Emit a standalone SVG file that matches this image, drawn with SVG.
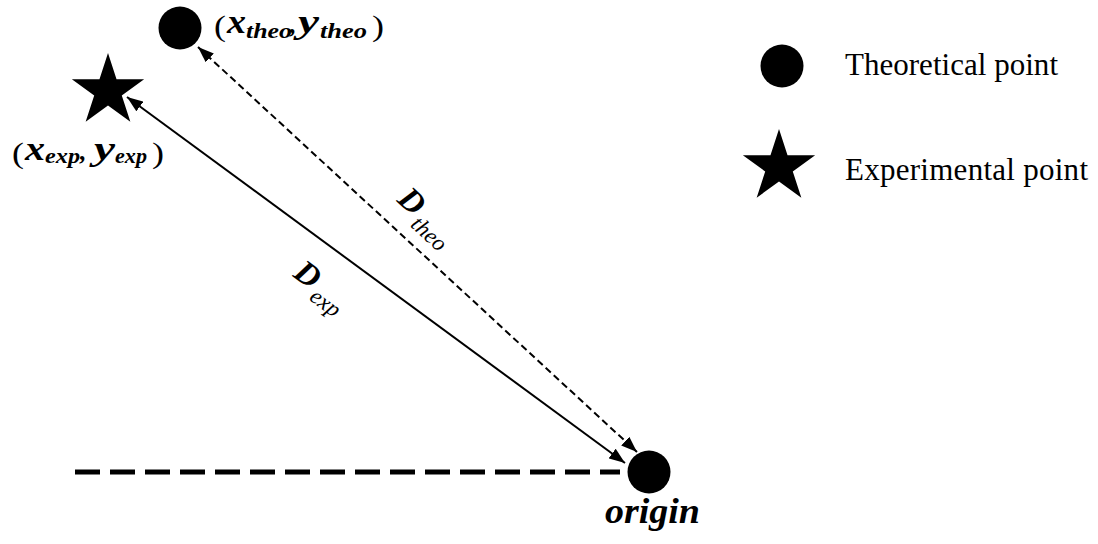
<svg xmlns="http://www.w3.org/2000/svg" width="1098" height="544" viewBox="0 0 1098 544">
<style>
.m{font-family:"Liberation Serif","Times New Roman",serif;font-weight:bold;font-style:italic;fill:#000}
.s{font-family:"Liberation Serif","Times New Roman",serif;font-style:italic;fill:#000}
.p{font-family:"Liberation Serif","Times New Roman",serif;fill:#000}
.leg{font-family:"Liberation Serif","Times New Roman",serif;font-size:31px;fill:#000}
.conn{stroke:#000;stroke-width:2;fill:none}
</style>
<defs>
<marker id="ah" viewBox="0 0 16 12" refX="16" refY="6" markerWidth="16" markerHeight="12" markerUnits="userSpaceOnUse" orient="auto-start-reverse">
<path d="M0,0 L16,6 L0,12 z" fill="#000"/>
</marker>
<path id="star" d="M0,-38 L8.52,-11.73 L36.14,-11.74 L13.79,4.48 L22.34,30.74 L0,14.5 L-22.34,30.74 L-13.79,4.48 L-36.14,-11.74 L-8.52,-11.73 Z" fill="#000"/>
</defs>
<rect width="1098" height="544" fill="#fff"/>
<g id="connectors">
<line x1="75" y1="472" x2="620" y2="472" stroke="#000" stroke-width="5" stroke-dasharray="25,10"/>
<line class="conn" x1="127" y1="97" x2="625" y2="463" marker-start="url(#ah)" marker-end="url(#ah)"/>
<line class="conn" x1="198" y1="47" x2="637" y2="452" stroke-dasharray="7,4" marker-start="url(#ah)" marker-end="url(#ah)"/>
<text class="m" font-size="33" transform="translate(396,201) rotate(42.7)">D<tspan class="s" font-size="23" font-weight="normal" dx="3" dy="9">theo</tspan></text>
<text class="m" font-size="33" transform="translate(292,276) rotate(36.3)">D<tspan class="s" font-size="23" font-weight="normal" dx="3" dy="9">exp</tspan></text>
</g>
<g id="theo-point">
<circle cx="180" cy="28" r="21.5" fill="#000"/>
<text class="p" font-size="29" x="214" y="36" textLength="12" lengthAdjust="spacingAndGlyphs">(</text>
<text class="m" font-size="34" x="227" y="33" textLength="19" lengthAdjust="spacingAndGlyphs">x</text>
<text class="m" font-size="22" x="246" y="38" textLength="46" lengthAdjust="spacingAndGlyphs">theo</text>
<text class="m" font-size="26" x="290" y="33">,</text>
<text class="m" font-size="34" x="298" y="33" textLength="21" lengthAdjust="spacingAndGlyphs">y</text>
<text class="m" font-size="22" x="320" y="38" textLength="47" lengthAdjust="spacingAndGlyphs">theo</text>
<text class="p" font-size="29" x="372" y="36" textLength="12" lengthAdjust="spacingAndGlyphs">)</text>
</g>
<g id="exp-point">
<use href="#star" x="108" y="91"/>
<text class="p" font-size="29" x="12" y="163" textLength="12" lengthAdjust="spacingAndGlyphs">(</text>
<text class="m" font-size="34" x="25" y="160" textLength="20" lengthAdjust="spacingAndGlyphs">x</text>
<text class="m" font-size="22" x="45" y="163" textLength="35" lengthAdjust="spacingAndGlyphs">exp</text>
<text class="m" font-size="26" x="80" y="160">,</text>
<text class="m" font-size="34" x="94" y="160" textLength="21" lengthAdjust="spacingAndGlyphs">y</text>
<text class="m" font-size="22" x="115" y="163" textLength="32" lengthAdjust="spacingAndGlyphs">exp</text>
<text class="p" font-size="29" x="152" y="163" textLength="12" lengthAdjust="spacingAndGlyphs">)</text>
</g>
<g id="origin">
<circle cx="649" cy="472" r="21.5" fill="#000"/>
<text class="m" font-size="35" x="605" y="523" textLength="95" lengthAdjust="spacingAndGlyphs">origin</text>
</g>
<g id="legend">
<circle cx="782" cy="66" r="21.5" fill="#000"/>
<text class="leg" x="845" y="75" textLength="213">Theoretical point</text>
<use href="#star" x="779" y="167"/>
<text class="leg" x="845" y="180" textLength="243">Experimental point</text>
</g>
</svg>
